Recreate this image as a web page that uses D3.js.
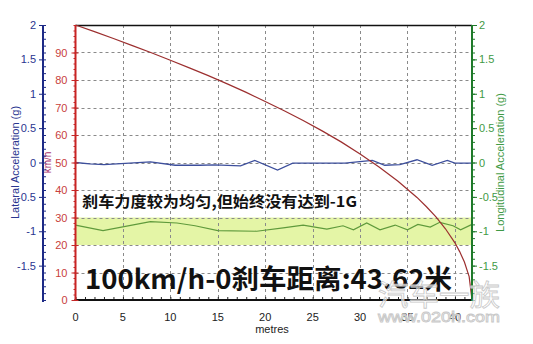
<!DOCTYPE html>
<html>
<head>
<meta charset="utf-8">
<script src="https://cdn.jsdelivr.net/npm/d3@7"></script>
<style>
  html, body { margin: 0; padding: 0; background: #fff; }
  svg { display: block; font-family: "Liberation Sans", Arial, sans-serif; }
</style>
</head>
<body>
<svg id="chart" width="533" height="344"></svg>
<script>
// Braking run: speed against distance travelled
const speedDist = [0, 2, 4, 6, 8, 10, 12, 14, 16, 18, 20, 22, 24, 26, 28, 30, 32, 34, 36, 37, 38, 39, 40, 40.5, 41, 41.5, 41.8];
const speedKmh  = [100, 97.6, 95.1, 92.5, 89.9, 87.2, 84.4, 81.6, 78.6, 75.5, 72.2, 68.8, 65.3, 61.5, 57.5, 53.1, 48.4, 43.2, 37.3, 33.9, 30.2, 25.9, 20.8, 17.6, 13.8, 8.5, 0];

// Lateral acceleration trace (g)
const latDist = [0, 1.5, 3.0, 5.7, 7.9, 10.5, 13.1, 14.7, 17.4, 18.9, 21.3, 22.9, 25.8, 28.4, 30.5, 31.3, 32.6, 34.2, 36.0, 37.6, 39.2, 40.0, 41.8];
const latG    = [0.00, -0.02, -0.03, -0.01, 0.01, -0.04, -0.04, -0.035, -0.05, 0.03, -0.11, -0.01, -0.01, -0.01, 0.02, 0.03, -0.04, -0.03, 0.04, -0.04, 0.03, -0.01, -0.01];

// Longitudinal acceleration trace (g)
const lonDist = [0, 2.9, 7.9, 10.7, 12.6, 15.0, 19.1, 21.9, 24.0, 26.5, 28.2, 29.3, 30.7, 32.1, 33.7, 35.0, 36.1, 37.4, 38.4, 39.8, 40.6, 41.8];
const lonG    = [-0.91, -0.99, -0.86, -0.88, -0.92, -0.99, -1.00, -0.95, -0.91, -0.97, -0.92, -0.98, -0.88, -0.98, -0.91, -0.98, -0.90, -0.94, -0.87, -0.92, -0.98, -0.90];

// Highlighted deceleration band (g)
const bandG = [-1.2, -0.8];

// Axis ticks
const distTicks  = [0, 5, 10, 15, 20, 25, 30, 35, 40];
const speedTicks = [0, 10, 20, 30, 40, 50, 60, 70, 80, 90];
const gTicks     = [-1.5, -1, -0.5, 0, 0.5, 1, 1.5, 2];

const noteText  = "刹车力度较为均匀,但始终没有达到-1G";
const titleText = "100km/h-0刹车距离:43.62米";

(function draw() {
  const svg = d3.select("#chart");
  const pLeft = 75.5, pRight = 472, pTop = 25, pBottom = 300;

  const x = d3.scaleLinear().domain([0, 41.8]).range([pLeft, pRight]);
  const ySpeed = d3.scaleLinear().domain([0, 100]).range([pBottom, pTop]);
  const yG = d3.scaleLinear().domain([-2, 2]).range([pBottom, pTop]);

  // deceleration band
  svg.append("rect")
    .attr("x", pLeft).attr("width", pRight - pLeft)
    .attr("y", yG(bandG[1])).attr("height", yG(bandG[0]) - yG(bandG[1]))
    .attr("fill", "#e4f5a6");

  // grid
  const grid = svg.append("g").attr("stroke", "#8a8a8a").attr("stroke-dasharray", "3,3").attr("stroke-width", 1);
  grid.selectAll("line.h").data(speedTicks.filter(d => d > 0)).join("line").attr("class", "h")
    .attr("x1", pLeft).attr("x2", pRight)
    .attr("y1", d => Math.round(ySpeed(d)) + 0.5).attr("y2", d => Math.round(ySpeed(d)) + 0.5);
  grid.selectAll("line.v").data(distTicks.filter(d => d > 0)).join("line").attr("class", "v")
    .attr("x1", d => Math.round(x(d)) + 0.5).attr("x2", d => Math.round(x(d)) + 0.5)
    .attr("y1", pTop).attr("y2", pBottom);

  // top frame
  svg.append("line").attr("x1", pLeft).attr("x2", pRight).attr("y1", pTop + 0.5).attr("y2", pTop + 0.5)
    .attr("stroke", "#111").attr("stroke-width", 1.5);

  // traces
  const lineOf = (xs, ys, yScale) => d3.line().x((d, i) => x(xs[i])).y((d, i) => yScale(ys[i]))(xs);

  svg.append("path").attr("d", lineOf(lonDist, lonG, yG))
    .attr("fill", "none").attr("stroke", "#5f9a3c").attr("stroke-width", 1.2);
  svg.append("path").attr("d", lineOf(latDist, latG, yG))
    .attr("fill", "none").attr("stroke", "#3d4f9c").attr("stroke-width", 1.3);
  svg.append("path").attr("d", lineOf(speedDist, speedKmh, ySpeed))
    .attr("fill", "none").attr("stroke", "#9c2f2f").attr("stroke-width", 1.2);

  // bottom axis (distance)
  const xAxis = svg.append("g").attr("transform", `translate(0,${pBottom})`);
  xAxis.call(d3.axisBottom(x).tickValues(d3.range(0, 42, 1)).tickSize(-3).tickFormat(""))
    .call(g => g.select(".domain").remove())
    .call(g => g.selectAll("line").attr("stroke", "#222"));
  xAxis.append("line").attr("x1", pLeft - 1).attr("x2", pRight).attr("stroke", "#111").attr("stroke-width", 2);
  xAxis.selectAll("text.t").data(distTicks).join("text").attr("class", "t")
    .attr("x", d => x(d)).attr("y", 21).attr("text-anchor", "middle")
    .attr("font-size", 11).attr("fill", "#222").text(d => d);
  svg.append("text").attr("x", 272).attr("y", 333).attr("text-anchor", "middle")
    .attr("font-size", 11).attr("fill", "#222").text("metres");

  // speed axis (red)
  const sAxis = svg.append("g").attr("transform", `translate(${pLeft},0)`);
  sAxis.call(d3.axisLeft(ySpeed).tickValues(speedTicks).tickSize(4).tickPadding(4).tickFormat(d => d))
    .call(g => g.select(".domain").remove())
    .call(g => g.selectAll("line").attr("stroke", "#c42a2a").attr("x2", -4).attr("x1", 3))
    .call(g => g.selectAll("text").attr("fill", "#c8403c").attr("font-size", 11)
      .attr("font-family", "'Liberation Sans', Arial, sans-serif"));
  sAxis.append("g").call(d3.axisLeft(ySpeed).tickValues(d3.range(0, 101, 2)).tickSize(2).tickFormat(""))
    .call(g => g.select(".domain").remove())
    .call(g => g.selectAll("line").attr("stroke", "#c42a2a"));
  sAxis.append("line").attr("y1", pTop).attr("y2", pBottom + 1).attr("stroke", "#c82424").attr("stroke-width", 2);
  svg.append("text").attr("transform", `translate(51,${yG(0)}) rotate(-90)`)
    .attr("text-anchor", "middle").attr("font-size", 10).attr("fill", "#a8306a").text("km/h");

  // lateral axis (blue, far left)
  const latX = 43;
  const lAxis = svg.append("g").attr("transform", `translate(${latX},0)`);
  lAxis.call(d3.axisLeft(yG).tickValues(gTicks).tickSize(4).tickPadding(3).tickFormat(d => d))
    .call(g => g.select(".domain").remove())
    .call(g => g.selectAll("line").attr("stroke", "#1d2a86"))
    .call(g => g.selectAll("text").attr("fill", "#2a3590").attr("font-size", 11)
      .attr("font-family", "'Liberation Sans', Arial, sans-serif"));
  lAxis.append("g").call(d3.axisRight(yG).tickValues(d3.range(-2, 2.01, 0.1)).tickSize(3).tickFormat(""))
    .call(g => g.select(".domain").remove())
    .call(g => g.selectAll("line").attr("stroke", "#1d2a86"));
  lAxis.append("line").attr("y1", pTop).attr("y2", pBottom + 2).attr("stroke", "#1d2a86").attr("stroke-width", 2);
  svg.append("text").attr("transform", `translate(19,${yG(0)}) rotate(-90)`)
    .attr("text-anchor", "middle").attr("font-size", 11).attr("fill", "#2a3590").text("Lateral Acceleration (g)");

  // longitudinal axis (green, right)
  const rAxis = svg.append("g").attr("transform", `translate(${pRight},0)`);
  rAxis.call(d3.axisRight(yG).tickValues(gTicks).tickSize(5).tickPadding(2).tickFormat(d => d))
    .call(g => g.select(".domain").remove())
    .call(g => g.selectAll("line").attr("stroke", "#1f7a2a"))
    .call(g => g.selectAll("text").attr("fill", "#3f9a46").attr("font-size", 11)
      .attr("font-family", "'Liberation Sans', Arial, sans-serif"));
  rAxis.append("g").call(d3.axisRight(yG).tickValues(d3.range(-2, 2.01, 0.1)).tickSize(3).tickFormat(""))
    .call(g => g.select(".domain").remove())
    .call(g => g.selectAll("line").attr("stroke", "#1f7a2a"));
  rAxis.append("line").attr("y1", pTop).attr("y2", pBottom + 1).attr("stroke", "#1f7a2a").attr("stroke-width", 2);
  svg.append("text").attr("transform", `translate(504,${yG(0)}) rotate(-90)`)
    .attr("text-anchor", "middle").attr("font-size", 11).attr("fill", "#3f9a46").text("Longitudinal Acceleration (g)");

  // annotations
  svg.append("text").attr("x", 82).attr("y", 207)
    .attr("font-family", "'Noto Sans CJK SC', sans-serif").attr("font-weight", "bold")
    .attr("font-size", 15).attr("fill", "#111")
    .attr("textLength", 275).attr("lengthAdjust", "spacingAndGlyphs").text(noteText);
  svg.append("text").attr("x", 85).attr("y", 289)
    .attr("font-family", "'Noto Sans CJK SC', sans-serif").attr("font-weight", "bold")
    .attr("font-size", 27).attr("fill", "#111")
    .attr("textLength", 367).attr("lengthAdjust", "spacingAndGlyphs").text(titleText);

  // site mark
  const wm = svg.append("g").attr("fill", "#ffffff").attr("fill-opacity", 0.6)
    .attr("stroke", "#c8c8c8").attr("stroke-width", 0.8)
    .attr("font-family", "'Noto Sans CJK SC', sans-serif");
  wm.append("text").attr("x", 378).attr("y", 306).attr("font-size", 29)
    .attr("textLength", 122).attr("lengthAdjust", "spacingAndGlyphs").text("汽车一族");
  wm.append("text").attr("x", 378).attr("y", 322).attr("font-size", 14)
    .attr("font-family", "'Liberation Sans', Arial, sans-serif")
    .attr("textLength", 122).attr("lengthAdjust", "spacingAndGlyphs").text("www.020h.com");
})();
</script>
</body>
</html>
